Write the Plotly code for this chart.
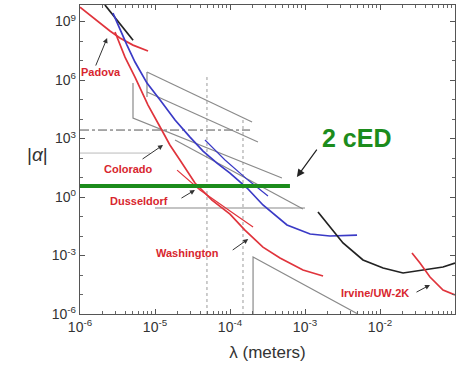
import math
import plotly.graph_objects as go

# --- Measured and excluded-region curves (lambda in meters, |alpha|) ---
black_top_lam = [2.15e-6, 3.3e-6, 5.1e-6]
black_top_alpha = [7.1e9, 9.3e8, 1.1e8]

padova_lam = [1.0e-6, 1.58e-6, 2.51e-6, 3.41e-6, 5.09e-6, 8.07e-6]
padova_alpha = [5.5e9, 1.34e9, 3.3e8, 1.43e8, 6.2e7, 3.1e7]

blue_lam = [2.75e-6, 3.41e-6, 4.23e-6, 5.41e-6, 7.82e-6, 1.17e-5, 1.85e-5, 2.93e-5,
            4.37e-5, 6.71e-5, 1.0e-4, 1.69e-4, 2.75e-4, 5.75e-4, 1.17e-3, 2.15e-3, 4.94e-3]
blue_alpha = [2.7e9, 3.7e8, 6.2e7, 8.4e6, 7.0e5, 9.4e4, 8.9e3, 1.19e3,
              229, 55, 17, 2.9, 0.39, 0.037, 0.0127, 0.010, 0.0112]

blue2_lam = [4.64e-5, 8.58e-5, 1.74e-4, 3.21e-4]
blue2_alpha = [838, 79, 7.4, 1.12]

red_env_lam = [2.93e-6, 3.98e-6, 5.41e-6, 8.07e-6, 1.17e-5, 1.58e-5, 2.15e-5, 3.41e-5,
               5.75e-5, 1.0e-4, 1.58e-4, 2.75e-4, 4.64e-4, 9.4e-4, 1.74e-3]
red_env_alpha = [2.9e8, 1.5e7, 1.43e6, 5.2e4, 3.9e3, 465, 79, 5.2,
                 0.70, 0.134, 0.020, 2.7e-3, 7.4e-4, 1.8e-4, 8.9e-5]

red_short_lam = [1.97e-5, 3.98e-5, 1.0e-4, 2.03e-4]
red_short_alpha = [24, 2.3, 0.19, 0.029]

black_right_lam = [1.49e-3, 2.15e-3, 3.21e-3, 5.93e-3, 0.011, 0.0203, 0.0374, 0.0692, 0.1]
black_right_alpha = [0.17, 0.029, 4.4e-3, 5.9e-4, 2.3e-4, 1.27e-4, 1.8e-4, 2.57e-4, 4.1e-4]

irvine_lam = [0.0267, 0.0341, 0.0464, 0.0692, 0.1]
irvine_alpha = [1.34e-3, 4.1e-4, 7.9e-5, 1.7e-5, 9.4e-6]

# Projected sensitivity outlines (segments separated by None)
limit_lam = [7.82e-6, 1.97e-4, None,
             7.82e-6, 7.82e-6, None,
             7.82e-6, 2.36e-4, None,
             5.09e-6, 5.09e-6, 4.93e-4, None,
             1.85e-5, 9.4e-4, None,
             1.0e-5, 1.0e-3, None,
             2.03e-4, 2.03e-4, 4.93e-3]
limit_alpha = [2.57e6, 7.0e3, None,
               2.57e6, 1.34e5, None,
               2.43e5, 661, None,
               7.0e5, 1.13e4, 9.4, None,
               838, 0.243, None,
               0.273, 0.273, None,
               1.0e-6, 8.4e-4, 1.06e-6]

dashdot_lam = [1.0e-6, 1.85e-4]
dashdot_alpha = [2.73e3, 2.73e3]
faint_lam = [1.0e-6, 8.6e-6]
faint_alpha = [180, 180]

dotted_lam = [4.93e-5, 4.93e-5, None, 1.49e-4, 1.49e-4]
dotted_alpha = [1.43e6, 1.0e-6, None, 8.9e3, 1.0e-6]

ced_lam = [1.0e-6, 6.3e-4]
ced_alpha = [3.66, 3.66]

# Axis ticks
x_tick_vals = [1e-6, 1e-5, 1e-4, 1e-3, 1e-2, 1e-1]
x_tick_text = ["10<sup>-6</sup>", "10<sup>-5</sup>", "10<sup>-4</sup>",
               "10<sup>-3</sup>", "10<sup>-2</sup>", "10<sup>-1</sup>"]
y_tick_vals = [1e-6, 1e-3, 1e0, 1e3, 1e6, 1e9]
y_tick_text = ["10<sup>-6</sup>", "10<sup>-3</sup>", "10<sup>0</sup>",
               "10<sup>3</sup>", "10<sup>6</sup>", "10<sup>9</sup>"]

RED = "#e0343c"
BLUE = "#3a3ac6"
BLACK = "#222222"
GRAY = "#8a8a8a"
GREEN = "#1c8c1c"
FONT = "Liberation Sans, Arial, sans-serif"

fig = go.Figure()


def line(x, y, color, width=1.7, dash="solid"):
    fig.add_trace(go.Scatter(x=x, y=y, mode="lines", connectgaps=False,
                             line=dict(color=color, width=width, dash=dash),
                             hoverinfo="skip", showlegend=False))


line(dotted_lam, dotted_alpha, "#9a9a9a", 1, "dot")
line(dashdot_lam, dashdot_alpha, "#555555", 1, "dashdot")
line(faint_lam, faint_alpha, "#bbbbbb", 1)
line(limit_lam, limit_alpha, GRAY, 1.2)
line(black_top_lam, black_top_alpha, BLACK)
line(padova_lam, padova_alpha, RED)
line(red_env_lam, red_env_alpha, RED)
line(red_short_lam, red_short_alpha, RED, 1.2)
line(blue_lam, blue_alpha, BLUE)
line(blue2_lam, blue2_alpha, BLUE, 1.2)
line(black_right_lam, black_right_alpha, BLACK)
line(irvine_lam, irvine_alpha, RED)
line(ced_lam, ced_alpha, GREEN, 4)

L = math.log10
annotations = []

# Experiment labels with pointer arrows
labels = [
    ("Padova", 1.9e-6, 2.6e6, 2.3e-6, 1.43e8, -12, 29),
    ("Colorado", 4.5e-6, 27, 1.28e-5, 465, -22, 15),
    ("Dusseldorf", 6.1e-6, 0.62, 3.41e-5, 2.3, -15, 9),
    ("Washington", 2.75e-5, 1.3e-3, 1.75e-4, 7.0e-3, -17, 12),
    ("Irvine/UW-2K", 8.6e-3, 1.2e-5, 0.0464, 3.1e-5, -15, 8),
]
for text, tx, ty, hx, hy, ax, ay in labels:
    annotations.append(dict(x=L(tx), y=L(ty), xref="x", yref="y", text="<b>" + text + "</b>",
                            showarrow=False,
                            font=dict(family=FONT, size=11, color="#d8262e"),
                            xanchor="center", yanchor="middle"))
    annotations.append(dict(x=L(hx), y=L(hy), xref="x", yref="y", text="",
                            showarrow=True, ax=ax, ay=ay, arrowhead=2,
                            arrowsize=1, arrowwidth=1, arrowcolor="#333333"))

annotations.append(dict(x=L(4.8e-3), y=L(1.06e3), xref="x", yref="y",
                        text="<b>2 cED</b>", showarrow=False,
                        font=dict(family=FONT, size=25, color=GREEN)))
annotations.append(dict(x=L(7.8e-4), y=L(10.6), xref="x", yref="y", text="",
                        showarrow=True, ax=21, ay=-29, arrowhead=2,
                        arrowsize=1.3, arrowwidth=1.2, arrowcolor="#222222"))

annotations.append(dict(x=-0.147, y=0.515, xref="paper", yref="paper",
                        text="|<i>α</i>|", showarrow=False,
                        font=dict(family=FONT, size=19, color="#333333")))

axis_common = dict(type="log", showgrid=False, zeroline=False, showline=True,
                   linecolor="#555555", linewidth=1.3, mirror="ticks",
                   ticks="inside", ticklen=5, tickcolor="#555555",
                   tickfont=dict(family=FONT, size=14, color="#333333"))

fig.update_layout(
    width=467, height=377,
    margin=dict(l=80, r=12, t=5, b=63),
    paper_bgcolor="white", plot_bgcolor="white",
    annotations=annotations,
    xaxis=dict(axis_common, range=[-6, -1], tickvals=x_tick_vals, ticktext=x_tick_text,
               minor=dict(ticks="inside", ticklen=3, tickcolor="#666666",
                          tickvals=[m * 10 ** k for k in range(-6, -1) for m in range(2, 10)]),
               title=dict(text="λ (meters)", standoff=12,
                          font=dict(family=FONT, size=17, color="#333333"))),
    yaxis=dict(axis_common, range=[-6, 9.85], tickvals=y_tick_vals, ticktext=y_tick_text,
               minor=dict(ticks="inside", ticklen=3, tickcolor="#666666",
                          tickvals=[10.0 ** k for k in range(-6, 10) if k % 3 != 0])),
)

fig.write_html("out.html")
